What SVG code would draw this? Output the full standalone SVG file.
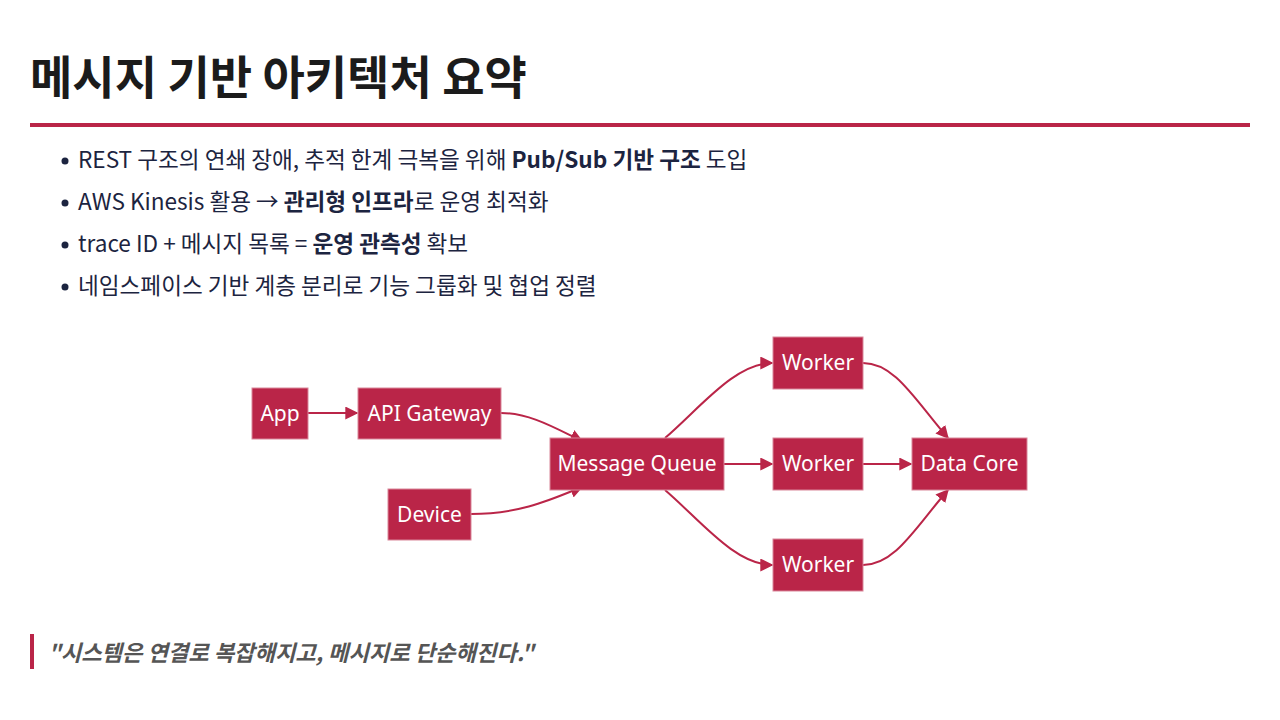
<svg xmlns="http://www.w3.org/2000/svg" width="1280" height="720" viewBox="0 0 1280 720">
<defs>
<style>
.title{font-family:"Noto Sans CJK KR","Noto Sans",sans-serif;font-weight:700;font-size:46px;fill:#1b1b1b}
.bl{font-family:"Noto Sans CJK KR","Noto Sans",sans-serif;font-size:22.6px;fill:#1c2440}
.bl .b{font-weight:700}
.node rect{fill:#ba2548;stroke:#d9879a;stroke-width:1}
.node text{font-family:"Noto Sans","Noto Sans CJK KR",sans-serif;font-size:21px;fill:#ffffff;text-anchor:middle;dominant-baseline:central}
.edge{fill:none;stroke:#ba2548;stroke-width:2;marker-end:url(#ah)}
.quote{font-family:"Noto Sans CJK KR","Noto Sans",sans-serif;font-size:22.2px;font-weight:700;font-style:italic;fill:#555555}
</style>
<marker id="ah" viewBox="0 0 10 10" refX="9" refY="5" markerWidth="6.5" markerHeight="6.5" markerUnits="strokeWidth" orient="auto">
<path d="M0,0 L10,5 L0,10 z" fill="#ba2548"/>
</marker>
</defs>
<rect width="1280" height="720" fill="#ffffff"/>
<text class="title" x="30" y="94">메시지 기반 아키텍처 요약</text>
<rect x="30" y="123" width="1220" height="4" fill="#ba2548"/>
<g class="bl">
<circle cx="65" cy="161" r="3.5" fill="#1c2440"/>
<text x="78" y="168">REST 구조의 연쇄 장애, 추적 한계 극복을 위해 <tspan class="b">Pub/Sub 기반 구조</tspan> 도입</text>
<circle cx="65" cy="203" r="3.5" fill="#1c2440"/>
<text x="78" y="210">AWS Kinesis 활용 → <tspan class="b">관리형 인프라</tspan>로 운영 최적화</text>
<circle cx="65" cy="245" r="3.5" fill="#1c2440"/>
<text x="78" y="252">trace ID + 메시지 목록 = <tspan class="b">운영 관측성</tspan> 확보</text>
<circle cx="65" cy="287" r="3.5" fill="#1c2440"/>
<text x="78" y="294">네임스페이스 기반 계층 분리로 기능 그룹화 및 협업 정렬</text>
</g>
<g id="connectors">
<path class="edge" d="M308,413 L357,413"/>
<path class="edge" d="M501,413 C530,413 555,428 582,441"/>
<path class="edge" d="M471,514 C520,514 550,500 582,487"/>
<path class="edge" d="M665,438 C700,408 735,363 772,363"/>
<path class="edge" d="M724,464 L772,464"/>
<path class="edge" d="M665,490 C700,520 735,565 772,565"/>
<path class="edge" d="M863,363 C895,363 915,400 948,438"/>
<path class="edge" d="M863,464 L911,464"/>
<path class="edge" d="M863,565 C895,565 915,528 948,490"/>
</g>
<g id="app" class="node"><rect x="252" y="388" width="56" height="51"/><text x="280" y="412.5">App</text></g>
<g id="apigw" class="node"><rect x="358" y="388" width="143" height="51"/><text x="429.5" y="412.5">API Gateway</text></g>
<g id="device" class="node"><rect x="388" y="489" width="83" height="51"/><text x="429.5" y="513.5">Device</text></g>
<g id="mq" class="node"><rect x="550" y="438" width="174" height="52"/><text x="637" y="463">Message Queue</text></g>
<g id="worker1" class="node"><rect x="773" y="337" width="90" height="52"/><text x="818" y="362">Worker</text></g>
<g id="worker2" class="node"><rect x="773" y="438" width="90" height="52"/><text x="818" y="463">Worker</text></g>
<g id="worker3" class="node"><rect x="773" y="539" width="90" height="52"/><text x="818" y="564">Worker</text></g>
<g id="datacore" class="node"><rect x="912" y="438" width="115" height="52"/><text x="969.5" y="463">Data Core</text></g>
<rect x="30" y="634" width="4" height="35" fill="#ba2548"/>
<text class="quote" x="48" y="661">"시스템은 연결로 복잡해지고, 메시지로 단순해진다."</text>
</svg>
